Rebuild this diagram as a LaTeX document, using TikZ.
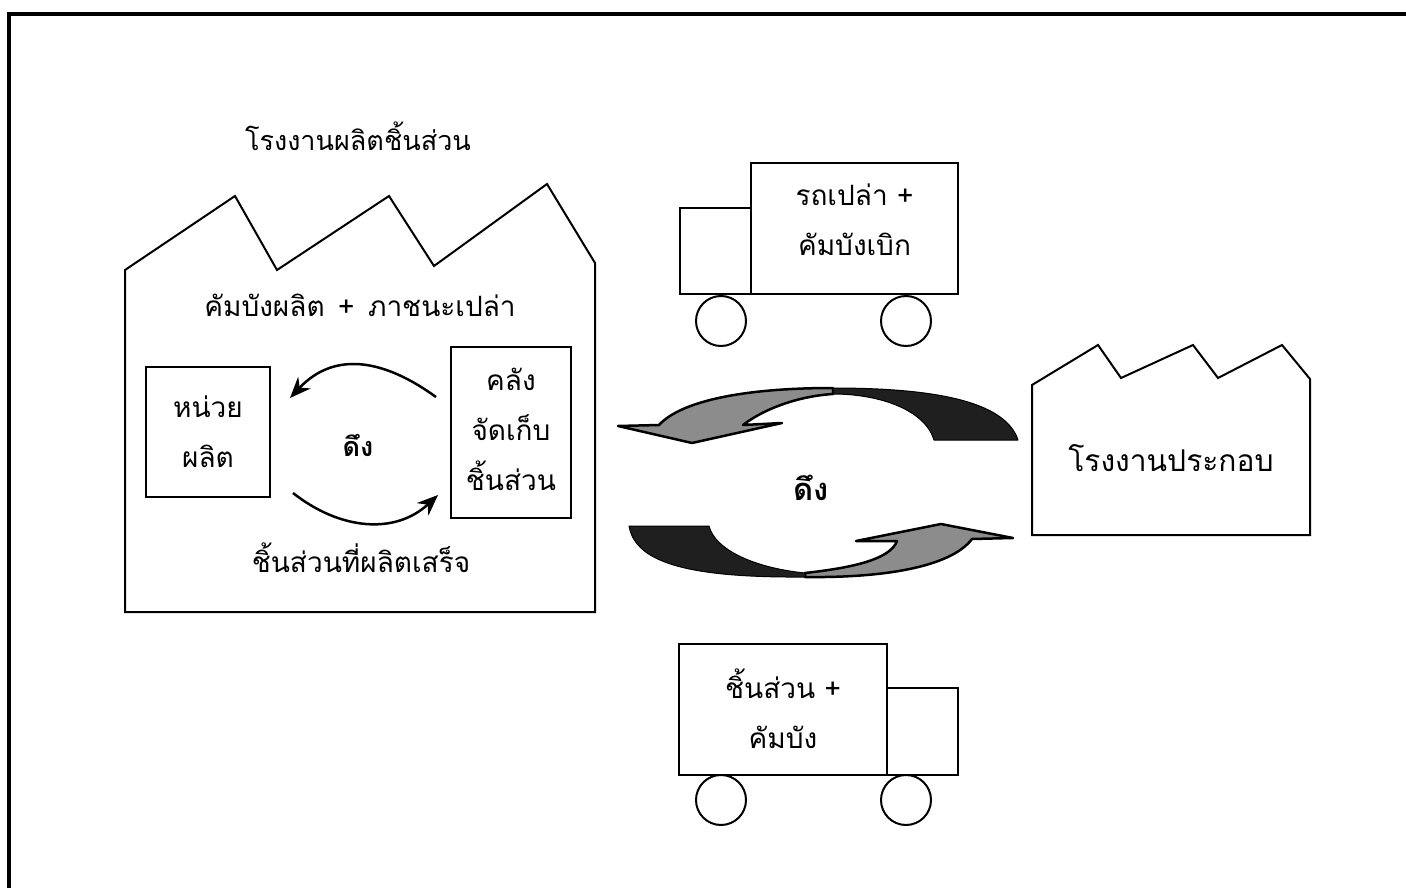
\documentclass[tikz,border=0pt]{standalone}
\usepackage{fontspec}
\setmainfont[Script=Thai]{Loma}
\usetikzlibrary{arrows.meta}
\begin{document}
\begin{tikzpicture}[
        x=1pt, y=-1pt,
        outline/.style={draw, line width=2pt},
        box/.style={outline, line width=2.5pt, inner sep=0pt, outer sep=0pt, align=center, anchor=north west},
        wheel/.style={outline, circle, minimum size=50pt, inner sep=0pt},
        label/.style={inner sep=0pt, align=center},
        pull/.style={line width=2.5pt, -{Stealth[length=21pt, width=17pt]}},
        light/.style={fill=black!45, draw=black, line width=2.5pt, line join=round},
        dark/.style={fill=black!88, draw=black, line width=1pt, line join=round},
        every node/.style={font=\fontsize{28}{50}\selectfont},
    ]
    \useasboundingbox (0,0) rectangle (1406,888);
    \draw[line width=4pt] (9,888) -- (9,14) -- (1406,14);

    \draw[outline] (125,270) -- (235,196) -- (277,270) -- (389,196) -- (434,266) -- (547,184) -- (595,263) -- (595,612) -- (125,612) -- cycle;
    \draw[outline] (1032,385) -- (1098,345) -- (1121,378) -- (1193,345) -- (1218,378) -- (1282,345) -- (1310,379) -- (1310,535) -- (1032,535) -- cycle;

    \node[label, font=\fontsize{27}{50}\selectfont] (maker) at (358,136) {โรงงานผลิตชิ้นส่วน};
    \node[label] (kanban) at (360,305) {คัมบังผลิต\hspace{13.5pt}+\hspace{13.5pt}ภาชนะเปล่า};
    \node[label] (finished) at (361,558) {ชิ้นส่วนที่ผลิตเสร็จ};
    \node[label, font=\fontsize{30}{50}\selectfont] (assembly) at (1171,458) {โรงงานประกอบ};

    \node[box, minimum width=124pt, minimum height=130pt] (unit) at (146,367) {หน่วย\\ผลิต};
    \node[box, minimum width=120pt, minimum height=171pt] (store) at (451,347) {คลัง\\จัดเก็บ\\ชิ้นส่วน\\[-43pt]};
    \node[label, font=\fontsize{27}{27}\selectfont\bfseries] (pullin) at (358,445) {ดึง};
    \node[label, font=\fontsize{31}{31}\selectfont\bfseries] (pullout) at (811,488) {ดึง};

    \coordinate (storeout) at (436,397);
    \coordinate (unitin) at (290,398);
    \coordinate (unitout) at (293,493);
    \coordinate (storein) at (438,495);
    \draw[pull] (storeout) .. controls (385,360) and (335,350) .. (unitin);
    \draw[pull] (unitout) .. controls (340,530) and (395,535) .. (storein);

    \node[box, minimum width=207pt, minimum height=131pt] (emptybody) at (751,163) {รถเปล่า +\\คัมบังเบิก\\[-32pt]};
    \node[box, minimum width=71pt, minimum height=86pt] (emptycab) at (680,208) {};
    \node[wheel] (emptyrear) at (721,321) {};
    \node[wheel] (emptyfront) at (906,321) {};

    \node[box, minimum width=208pt, minimum height=131pt] (fullbody) at (679,644) {ชิ้นส่วน +\\คัมบัง\\[-49pt]};
    \node[box, minimum width=71pt, minimum height=87pt] (fullcab) at (887,688) {};
    \node[wheel] (fullrear) at (721,800) {};
    \node[wheel] (fullfront) at (906,800) {};

    \draw[light] (833,388) .. controls (740,388) and (680,402) .. (659,425) -- (618,426) -- (692,443) -- (782,423) -- (743,425) .. controls (765,408) and (800,396) .. (833,394) -- cycle;
    \draw[dark] (833,388) .. controls (930,388) and (1005,400) .. (1018,440) -- (934,440) .. controls (925,410) and (880,394) .. (833,394) -- cycle;
    \draw[light] (805,573) .. controls (850,568) and (890,560) .. (897,541) -- (856,541) -- (941,524) -- (1013,538) -- (972,539) .. controls (950,568) and (880,578) .. (805,577) -- cycle;
    \draw[dark] (805,573) .. controls (755,568) and (715,550) .. (709,526) -- (629,526) .. controls (635,560) and (680,578) .. (805,577) -- cycle;
\end{tikzpicture}
\end{document}
